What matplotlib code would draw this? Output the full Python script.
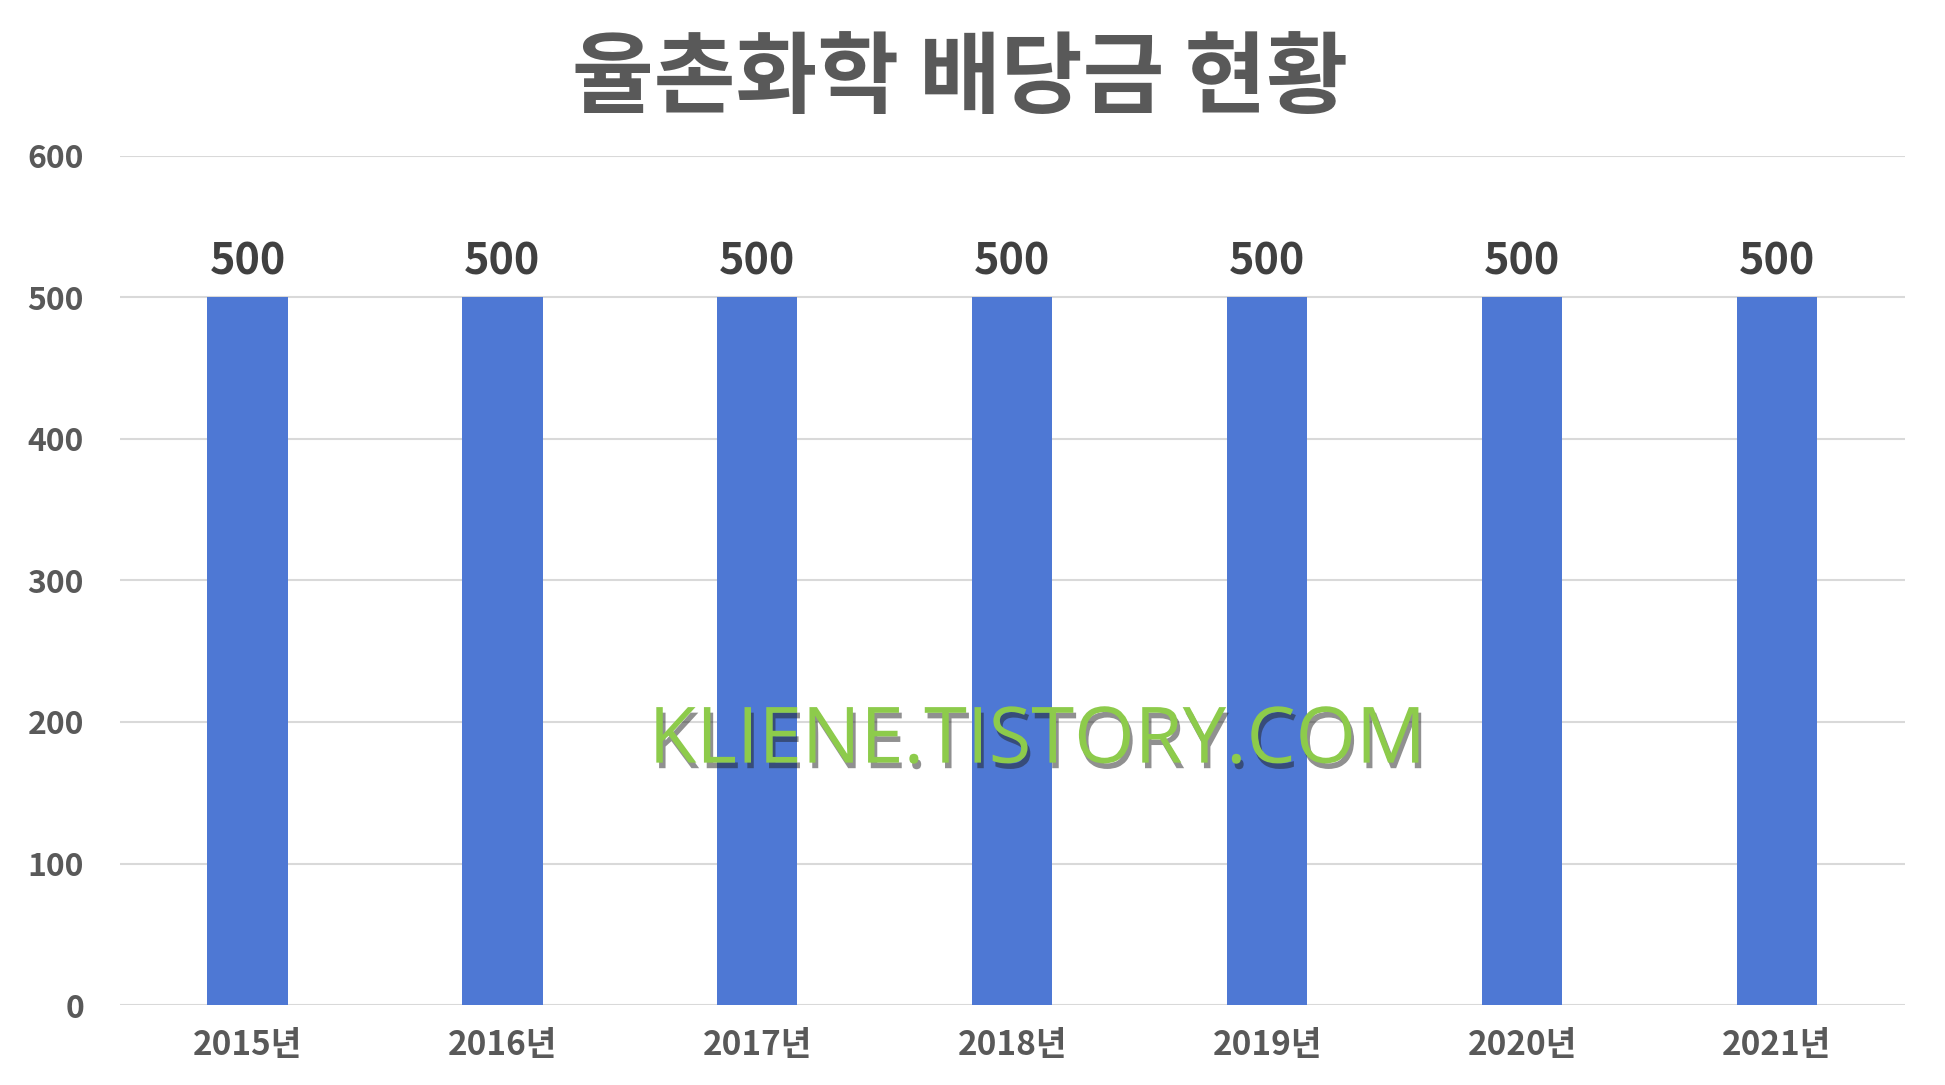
import matplotlib
matplotlib.use("Agg")
import matplotlib.pyplot as plt
import matplotlib.patheffects as pe

plt.rcParams['font.family'] = ['Noto Sans CJK KR', 'DejaVu Sans']

years = ['2015년', '2016년', '2017년', '2018년', '2019년', '2020년', '2021년']
dividends = [500, 500, 500, 500, 500, 500, 500]
yticks = [0, 100, 200, 300, 400, 500, 600]
title = '율촌화학 배당금 현황'
watermark = 'KLIENE.TISTORY.COM'

fig = plt.figure(figsize=(19.45, 10.85), dpi=100)
ax = fig.add_axes([0.0617, 0.0737, 0.9175, 0.7826])

x = list(range(len(years)))
bars = ax.bar(x, dividends, width=0.315, color='#4E78D4', zorder=3)

for xi, v in zip(x, dividends):
    ax.annotate(f'{v}', (xi, v), xytext=(0, 10), textcoords='offset points',
                ha='center', va='bottom', fontsize=31, fontweight='bold',
                color='#404040')

ax.set_xlim(-0.5, len(years) - 0.5)
ax.set_ylim(0, 600)
ax.set_yticks(yticks)
ax.set_yticklabels([str(t) for t in yticks])
ax.set_xticks(x)
ax.set_xticklabels(years)
ax.tick_params(axis='y', length=0, pad=26, labelsize=23, labelcolor='#595959')
ax.tick_params(axis='x', length=0, pad=17, labelsize=24, labelcolor='#595959')
for lab in ax.get_xticklabels() + ax.get_yticklabels():
    lab.set_fontweight('bold')
for s in ax.spines.values():
    s.set_visible(False)
ax.grid(axis='y', color='#D9D9D9', linewidth=1.5, zorder=0)
ax.set_axisbelow(True)

fig.text(0.4936, 0.926, title, ha='center', va='center', fontsize=64,
         fontweight='bold', color='#595959')

wm = fig.text(0.5335, 0.316, watermark, ha='center', va='center',
              fontsize=56, family=['Open Sans', 'DejaVu Sans'],
              color='#8DCB4B', zorder=10)
wm.set_path_effects([pe.SimplePatchShadow(offset=(2, -4), shadow_rgbFace='#222222', alpha=0.5),
                     pe.Normal()])

fig.savefig('out.png', dpi=100, facecolor='white')
